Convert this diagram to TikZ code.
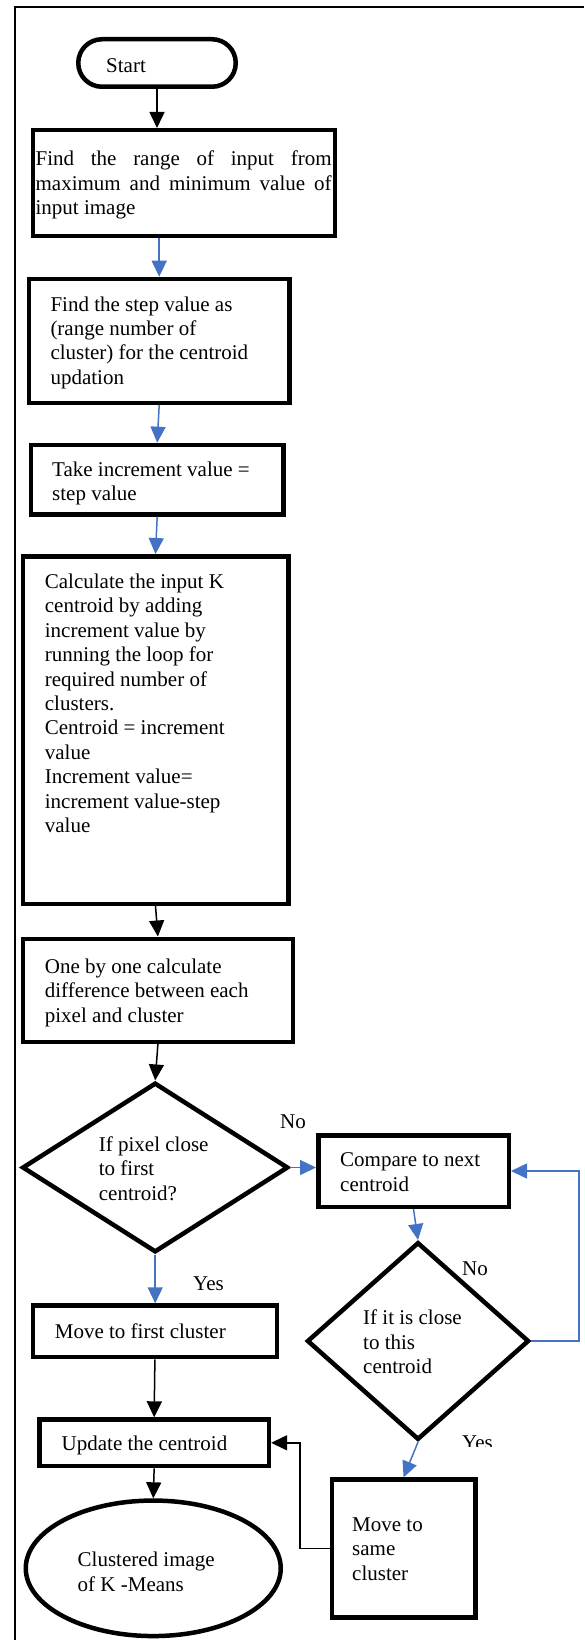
\documentclass[tikz,border=0pt]{standalone}
\usepackage{fontspec}
\setmainfont{Liberation Serif}
\usetikzlibrary{shapes.geometric,arrows.meta}
\definecolor{wordblue}{RGB}{68,114,196}
\newcommand{\fs}{\fontsize{21}{24.4}\selectfont}
\newcommand{\mytxt}[1]{\parbox[t]{400pt}{\raggedright #1}}
\begin{document}
\begin{tikzpicture}[x=1pt,y=-1pt,
  shp/.style={draw=black, line width=4.5pt, inner sep=0pt},
  box/.style={shp, rectangle},
  dia/.style={shp, diamond},
  txt/.style={inner sep=0pt, anchor=base west, font=\fs},
  arr/.style={-{Triangle[length=16pt,width=15pt]}, line width=1.5pt, draw=black},
  barr/.style={arr, draw=wordblue}]
\useasboundingbox (0,0) rectangle (584,1640);
% frame
\coordinate (fBL) at (14.9,1640);
\coordinate (fTL) at (14.9,7.3);
\coordinate (fTR) at (584,7.3);
\draw[line width=1.6pt] (fBL) -- (fTL) -- (fTR);

% shapes
\node[box, rounded corners=23.7pt, minimum width=157.5pt, minimum height=47.5pt] (start) at (157,63) {};
\node[box, minimum width=302pt, minimum height=105.5pt] (b1) at (183.75,183) {};
\node[box, minimum width=260.3pt, minimum height=123.8pt] (b2) at (159.2,340.85) {};
\node[box, minimum width=252.5pt, minimum height=69.5pt] (b3) at (157.2,479.7) {};
\node[box, minimum width=265.5pt, minimum height=347.5pt] (b4) at (155.5,730) {};
\node[box, minimum width=270.3pt, minimum height=103pt] (b5) at (157.9,990.25) {};
\node[dia, minimum width=266pt, minimum height=169.6pt] (d1) at (155.2,1167.5) {};
\node[box, minimum width=190.5pt, minimum height=71.5pt] (b6) at (413.5,1171) {};
\node[dia, minimum width=222pt, minimum height=197.6pt] (d2) at (418,1341) {};
\node[box, minimum width=244.3pt, minimum height=51.5pt] (b7) at (154.9,1331.3) {};
\node[box, minimum width=229.4pt, minimum height=46.5pt] (b9) at (154.15,1442.8) {};
\node[box, minimum width=143.4pt, minimum height=137.7pt] (b8) at (403.55,1548.4) {};
\node[shp, ellipse, minimum width=255pt, minimum height=135.5pt] (ell) at (153.25,1568.3) {};

% texts
\node[txt] (tstart) at (106,72.7) {Start};
\node[txt] (t1) at (35.4,166) {\mytxt{\makebox[296pt][s]{Find the range of input from}\\\makebox[296pt][s]{maximum and minimum value of}\\input image}};
\node[txt] (t2) at (50.3,311) {\mytxt{Find the step value as\\(range number of\\cluster) for the centroid\\updation}};
\node[txt] (t3) at (52,476.5) {\mytxt{Take increment value =\\step value}};
\node[txt] (t4) at (44.7,588.5) {\mytxt{Calculate the input K\\centroid by adding\\increment value by\\running the loop for\\required number of\\clusters.\\Centroid = increment\\value\\Increment value=\\increment value-step\\value}};
\node[txt] (t5) at (44.7,973.3) {\mytxt{One by one calculate\\difference between each\\pixel and cluster}};
\node[txt] (td1) at (98.7,1151.3) {\mytxt{If pixel close\\to first\\centroid?}};
\node[txt] (t6) at (340,1166.7) {\mytxt{Compare to next\\centroid}};
\node[txt] (td2) at (363,1324.7) {\mytxt{If it is close\\to this\\centroid}};
\node[txt] (t7) at (54.7,1338.5) {Move to first cluster};
\node[txt] (t9) at (61.5,1450.7) {Update the centroid};
\node[txt] (tell) at (77.5,1566.7) {\mytxt{Clustered image\\of K -Means}};
\node[txt] (t8) at (352,1531.3) {\mytxt{Move to\\same\\cluster}};

% edge labels
\node[txt] (no1) at (280,1128.9) {No};
\node[txt] (no2) at (462,1275.6) {No};
\node[txt] (yes1) at (193,1290.7) {Yes};
\begin{scope}
\clip (440,1415) rectangle (520,1446.7);
\node[txt] (yes2) at (462,1449.5) {Yes};
\end{scope}

% connectors
\coordinate (loopR) at (579,1341);
\coordinate (elbow) at (300,1548.4);
\draw[arr] (start.south) -- (start.south |- b1.north);
\draw[barr] (b2.north |- b1.south) -- (b2.north);
\draw[barr] (b2.south) -- (b3.north);
\draw[barr] (b3.south) -- (b4.north);
\draw[arr] (b4.south) -- (b5.north);
\draw[arr] (b5.south) -- (d1.north);
\draw[barr] (d1.east) -- (d1.east -| b6.west);
\draw[barr] (b6.south) -- (d2.north);
\draw[barr] (d2.east) -- (loopR) |- (b6.east);
\draw[barr] (d1.south) -- (d1.south |- b7.north);
\draw[arr] (b7.south) -- (b9.north);
\draw[arr] (b9.south) -- (ell.north);
\draw[barr] (d2.south) -- (b8.north);
\draw[arr] (b8.west) -- (elbow) |- (b9.east);
\end{tikzpicture}
\end{document}
